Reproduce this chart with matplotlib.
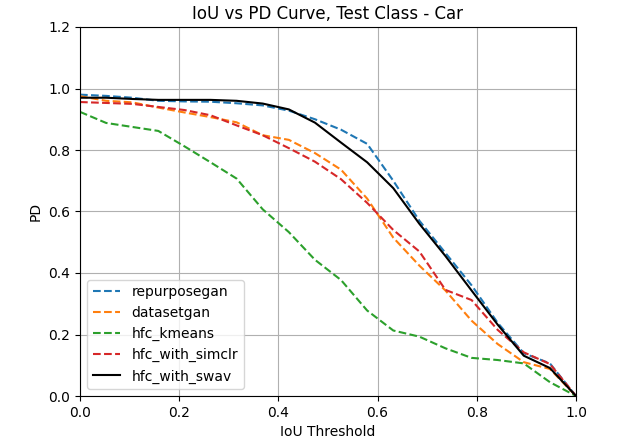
import numpy as np
import matplotlib
matplotlib.use('Agg')
import matplotlib.pyplot as plt

# IoU thresholds (20 evenly spaced steps)
iou = np.linspace(0, 1, 20)

pd_repurposegan = [0.980, 0.976, 0.970, 0.960, 0.958, 0.957, 0.952, 0.945, 0.928, 0.900,
                   0.866, 0.820, 0.700, 0.570, 0.465, 0.360, 0.238, 0.139, 0.106, 0.0]
pd_datasetgan = [0.975, 0.960, 0.955, 0.938, 0.922, 0.907, 0.890, 0.848, 0.833, 0.790,
                 0.736, 0.642, 0.515, 0.424, 0.343, 0.245, 0.169, 0.110, 0.088, 0.0]
pd_kmeans = [0.924, 0.888, 0.875, 0.862, 0.812, 0.760, 0.707, 0.607, 0.533, 0.443,
             0.377, 0.278, 0.213, 0.193, 0.155, 0.124, 0.117, 0.106, 0.045, 0.0]
pd_simclr = [0.956, 0.953, 0.950, 0.940, 0.930, 0.913, 0.880, 0.848, 0.806, 0.762,
             0.705, 0.628, 0.540, 0.470, 0.345, 0.312, 0.215, 0.142, 0.104, 0.0]
pd_swav = [0.970, 0.970, 0.966, 0.963, 0.963, 0.963, 0.960, 0.951, 0.932, 0.889,
           0.824, 0.760, 0.676, 0.560, 0.455, 0.343, 0.232, 0.131, 0.091, 0.0]

fig = plt.figure(figsize=(6.4, 4.41), dpi=100)
ax = fig.add_axes([0.125, 45 / 441, 0.775, 369 / 441])

ax.plot(iou, pd_repurposegan, '--', color='tab:blue', label='repurposegan')
ax.plot(iou, pd_datasetgan, '--', color='tab:orange', label='datasetgan')
ax.plot(iou, pd_kmeans, '--', color='tab:green', label='hfc_kmeans')
ax.plot(iou, pd_simclr, '--', color='tab:red', label='hfc_with_simclr')
ax.plot(iou, pd_swav, '-', color='black', label='hfc_with_swav')

ax.set_xlim(0, 1)
ax.set_ylim(0, 1.2)
ax.set_yticks(np.arange(0, 1.21, 0.2))
ax.set_xlabel('IoU Threshold')
ax.set_ylabel('PD')
ax.set_title('IoU vs PD Curve, Test Class - Car')
ax.grid(True)
ax.legend(loc='lower left')

fig.savefig('out.png', dpi=100)
